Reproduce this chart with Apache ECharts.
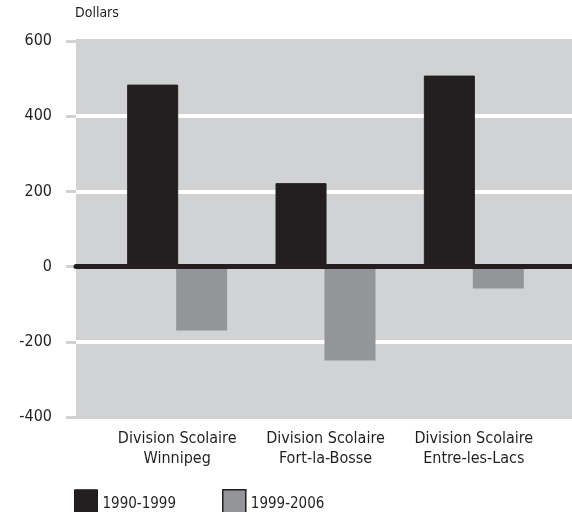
<!DOCTYPE html>
<html><head><meta charset="utf-8">
<script src="https://cdn.jsdelivr.net/npm/echarts@6/dist/echarts.min.js"></script>
<style>html,body{margin:0;padding:0;background:#fff}#c{width:572px;height:512px}</style>
</head><body><div id="c"></div>
<script>
const categories = ['Division Scolaire\nWinnipeg', 'Division Scolaire\nFort-la-Bosse', 'Division Scolaire\nEntre-les-Lacs'];
const series1990 = [484, 222, 508];
const series1999 = [-170, -250, -58];
const seriesNames = ['1990-1999', '1999-2006'];
const yTicks = {min: -400, max: 600, interval: 200};

const FONT = '"DejaVu Sans Condensed", "Liberation Sans Narrow", sans-serif';
const INK = '#231f20';
const chart = echarts.init(document.getElementById('c'));
chart.setOption({
  animation: false,
  textStyle: {fontFamily: FONT},
  graphic: [{type: 'text', left: 75, top: 6, style: {text: 'Dollars', font: '14px ' + FONT, fill: INK}}],
  legend: {
    left: 74, top: 489, padding: 0, itemWidth: 23, itemHeight: 28, itemGap: 46,
    icon: 'rect',
    textStyle: {fontSize: 15, color: INK, fontFamily: FONT, padding: [9, 0, 0, 0]},
    data: [
      {name: seriesNames[0], itemStyle: {color: INK, borderColor: INK, borderWidth: 1}},
      {name: seriesNames[1], itemStyle: {color: '#939598', borderColor: INK, borderWidth: 1.5}}
    ]
  },
  grid: [
    {left: 76, right: 0, top: 41, bottom: 95, show: true, backgroundColor: '#d1d2d4', borderWidth: 0},
    {left: 103, right: 24, top: 41, bottom: 95}
  ],
  xAxis: [
    {gridIndex: 0, type: 'value', min: 0, max: 1, z: 5,
     axisLine: {show: true, onZero: true, lineStyle: {color: INK, width: 5}},
     axisTick: {show: false}, axisLabel: {show: false}, splitLine: {show: false}},
    {gridIndex: 1, type: 'category', data: categories,
     axisLine: {show: false}, axisTick: {show: false},
     axisLabel: {show: true, interval: 0, fontSize: 16, color: INK, fontFamily: FONT, lineHeight: 20, margin: 12},
     splitLine: {show: false}}
  ],
  yAxis: [
    {gridIndex: 0, type: 'value', min: yTicks.min, max: yTicks.max, interval: yTicks.interval,
     axisLine: {show: false},
     axisTick: {show: true, length: 10, lineStyle: {color: '#d1d2d4', width: 3}},
     axisLabel: {fontSize: 16, color: INK, fontFamily: FONT, margin: 24},
     splitLine: {show: true, lineStyle: {color: ['#d1d2d4', '#ffffff', '#ffffff', '#ffffff', '#ffffff', '#d1d2d4'], width: 4}}},
    {gridIndex: 1, type: 'value', min: yTicks.min, max: yTicks.max, interval: yTicks.interval, show: false,
     splitLine: {show: false}}
  ],
  series: [
    {name: seriesNames[0], type: 'bar', xAxisIndex: 1, yAxisIndex: 1, data: series1990,
     barWidth: 51, barGap: '-4%', itemStyle: {color: INK, borderColor: INK, borderWidth: 1}},
    {name: seriesNames[1], type: 'bar', xAxisIndex: 1, yAxisIndex: 1, data: series1999,
     barWidth: 51, barGap: '-4%', itemStyle: {color: '#939598'}}
  ]
});
</script></body></html>
